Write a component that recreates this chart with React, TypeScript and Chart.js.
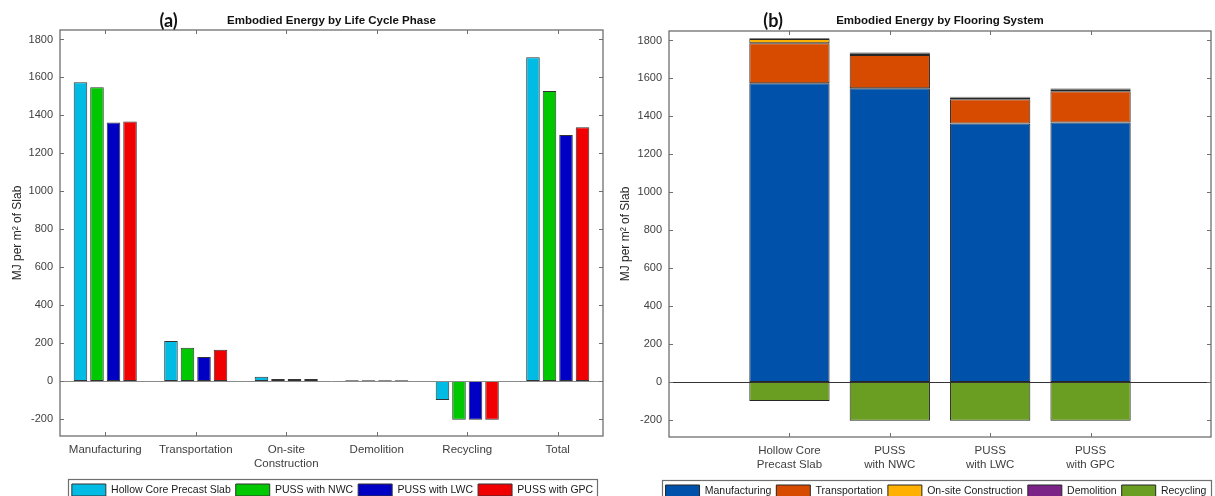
import React, { useEffect, useRef } from 'react';
import { Chart, registerables } from 'chart.js';

Chart.register(...registerables);
Chart.defaults.font.family = '"Liberation Sans", Arial, Helvetica, sans-serif';

// ---------- data: chart (a) ----------
const phaseLabels = ['Manufacturing', 'Transportation', ['On-site', 'Construction'], 'Demolition', 'Recycling', 'Total'];
const systemNames = ['Hollow Core Precast Slab', 'PUSS with NWC', 'PUSS with LWC', 'PUSS with GPC'];
const hollowCoreByPhase = [1575, 211, 22, 4, -100, 1707];
const pussNwcByPhase = [1548, 175, 10, 4, -205, 1528];
const pussLwcByPhase = [1363, 127, 10, 4, -205, 1296];
const pussGpcByPhase = [1368, 165, 10, 4, -205, 1338];

// ---------- data: chart (b) ----------
const systemTickLabels = [['Hollow Core', 'Precast Slab'], ['PUSS', 'with NWC'], ['PUSS', 'with LWC'], ['PUSS', 'with GPC']];
const systemPositions = [1, 2, 3, 4];
const phaseNames = ['Manufacturing', 'Transportation', 'On-site Construction', 'Demolition', 'Recycling'];
const manufacturingBySystem = [1575, 1548, 1363, 1368];
const transportationBySystem = [211, 175, 127, 165];
const onSiteBySystem = [22, 10, 10, 10];
const demolitionBySystem = [4, 4, 4, 4];
const recyclingBySystem = [-100, -205, -205, -205];

// ---------- shared axis ----------
const yTickValues = [-200, 0, 200, 400, 600, 800, 1000, 1200, 1400, 1600, 1800];
const yMin = -290;
const yMax = 1850;
const yTitle = 'MJ per m\u00B2 of Slab';

const colorsA = ['#00BCE4', '#00C800', '#0000C4', '#F00000'];
const colorsB = ['#0051A9', '#D64B00', '#FFB000', '#7B2386', '#6A9E22'];

const TICK_COLOR = '#404040';

const framePlugin = {
  id: 'frame',
  afterLayout(chart: any, _args: any, opts: any) {
    const lg = chart.legend;
    if (!lg) return;
    const ca = chart.chartArea;
    const cx = (ca.left + ca.right) / 2 + (opts.legendShift || 0);
    const d = cx - (lg.left + lg.right) / 2;
    lg.left += d;
    lg.right += d;
  },
  afterDraw(chart: any, _args: any, opts: any) {
    const { ctx, chartArea } = chart;
    const { left, right, top, bottom } = chartArea;
    const x = chart.scales.x;
    const y = chart.scales.y;
    const line = (x1: number, y1: number, x2: number, y2: number) => {
      ctx.beginPath();
      ctx.moveTo(x1, y1);
      ctx.lineTo(x2, y2);
      ctx.stroke();
    };
    ctx.save();
    // zero baseline
    const y0 = Math.round(y.getPixelForValue(0)) + 0.5;
    ctx.strokeStyle = opts.zeroColor;
    ctx.lineWidth = 1;
    line(left, y0, right, y0);
    // box
    ctx.strokeStyle = '#6f6f6f';
    ctx.lineWidth = 1.3;
    ctx.strokeRect(left, top, right - left, bottom - top);
    // inward ticks
    ctx.lineWidth = 1;
    y.ticks.forEach((t: any) => {
      const py = Math.round(y.getPixelForValue(t.value)) + 0.5;
      line(left, py, left + 4, py);
      line(right, py, right - 4, py);
    });
    x.ticks.forEach((_t: any, i: number) => {
      const px = Math.round(x.getPixelForTick(i)) + 0.5;
      line(px, bottom, px, bottom - 4);
      line(px, top, px, top + 4);
    });
    // titles
    ctx.fillStyle = '#111';
    ctx.textAlign = 'center';
    ctx.textBaseline = 'middle';
    ctx.font = 'bold 11.5px "Liberation Sans", Arial, sans-serif';
    ctx.fillText(opts.title, (left + right) / 2, opts.titleY);
    ctx.font = 'bold 18px Lato, "Open Sans", sans-serif';
    ctx.fillText(opts.tag, left + opts.tagFrac * (right - left), opts.titleY);
    // legend border
    const lg = chart.legend;
    if (lg && lg.legendHitBoxes && lg.legendHitBoxes.length) {
      const hb = lg.legendHitBoxes;
      const l = hb[0].left - 4;
      const last = hb[hb.length - 1];
      const r = last.left + last.width + 4;
      ctx.strokeStyle = '#6f6f6f';
      ctx.lineWidth = 1.2;
      ctx.strokeRect(Math.round(l) + 0.5, Math.round(lg.top) + 0.5, Math.round(r - l), 60);
    }
    ctx.restore();
  },
};

function commonY(titlePad: number, axisWidth: number) {
  return {
    min: yMin,
    max: yMax,
    grid: { display: false, drawTicks: false },
    border: { display: false },
    ticks: { color: TICK_COLOR, padding: 7, font: { size: 11 }, callback: (v: number) => String(v) },
    afterBuildTicks: (s: any) => {
      s.ticks = yTickValues.map((v) => ({ value: v }));
    },
    afterFit: (s: any) => {
      s.width = axisWidth;
    },
    title: {
      display: true,
      text: yTitle,
      color: '#262626',
      font: { size: 12 },
      padding: { top: titlePad, bottom: 0 },
    },
  };
}

const legendOpts = {
  position: 'bottom' as const,
  labels: {
    boxWidth: 34,
    boxHeight: 12,
    padding: 5,
    color: '#1a1a1a',
    font: { size: 10.5 },
  },
};

function buildConfigA(): any {
  const series = [hollowCoreByPhase, pussNwcByPhase, pussLwcByPhase, pussGpcByPhase];
  return {
    type: 'bar',
    data: {
      labels: phaseLabels,
      datasets: series.map((d, i) => ({
        label: systemNames[i],
        data: d,
        backgroundColor: colorsA[i],
        borderColor: '#333333',
        borderWidth: 1,
        borderSkipped: false,
        categoryPercentage: 0.73,
        barPercentage: 0.82,
      })),
    },
    options: {
      animation: false,
      responsive: false,
      events: [],
      layout: { padding: { top: 30, right: 4, left: 0, bottom: 0 } },
      scales: {
        x: {
          grid: { display: false, drawTicks: false },
          border: { display: false },
          ticks: { color: TICK_COLOR, padding: 7, maxRotation: 0, autoSkip: false, font: { size: 11.5, lineHeight: 1.18 } },
          afterFit: (s: any) => {
            s.height = 43;
          },
        },
        y: commonY(10, 60),
      },
      plugins: {
        legend: legendOpts,
        tooltip: { enabled: false },
        frame: {
          title: 'Embodied Energy by Life Cycle Phase',
          tag: '(a)',
          tagFrac: 0.2,
          titleY: 21,
          zeroColor: '#8a8a8a',
          legendShift: 1,
        },
      },
    },
    plugins: [framePlugin],
  };
}

function buildConfigB(): any {
  const series = [manufacturingBySystem, transportationBySystem, onSiteBySystem, demolitionBySystem, recyclingBySystem];
  return {
    type: 'bar',
    data: {
      datasets: series.map((d, i) => ({
        label: phaseNames[i],
        data: d.map((v, j) => ({ x: systemPositions[j], y: v })),
        backgroundColor: colorsB[i],
        borderColor: '#262626',
        borderWidth: 1,
        borderSkipped: false,
        categoryPercentage: 1,
        barPercentage: 0.8,
      })),
    },
    options: {
      animation: false,
      responsive: false,
      events: [],
      layout: { padding: { top: 31, right: 4, left: 0, bottom: 0 } },
      scales: {
        x: {
          type: 'linear',
          stacked: true,
          offset: false,
          min: -0.2,
          max: 5.2,
          grid: { display: false, drawTicks: false },
          border: { display: false },
          afterBuildTicks: (s: any) => {
            s.ticks = systemPositions.map((v) => ({ value: v }));
          },
          ticks: {
            color: TICK_COLOR,
            padding: 7,
            maxRotation: 0,
            autoSkip: false,
            font: { size: 11.5, lineHeight: 1.18 },
            callback: (value: number) => systemTickLabels[systemPositions.indexOf(value)] ?? '',
          },
          afterFit: (s: any) => {
            s.height = 43;
          },
        },
        y: { ...commonY(11, 62), stacked: true },
      },
      plugins: {
        legend: legendOpts,
        tooltip: { enabled: false },
        frame: {
          title: 'Embodied Energy by Flooring System',
          tag: '(b)',
          tagFrac: 0.192,
          titleY: 21,
          zeroColor: '#333333',
          legendShift: -4,
        },
      },
    },
    plugins: [framePlugin],
  };
}

function ChartCanvas({ build, width, height }: { build: () => any; width: number; height: number }) {
  const ref = useRef<HTMLCanvasElement>(null);
  useEffect(() => {
    const chart = new Chart(ref.current as HTMLCanvasElement, build());
    return () => chart.destroy();
  }, [build]);
  return <canvas ref={ref} width={width} height={height} style={{ display: 'block', width, height }} />;
}

export default function App() {
  return (
    <div
      style={{
        position: 'fixed',
        left: 0,
        top: 0,
        width: 1215,
        height: 496,
        overflow: 'hidden',
        background: '#ffffff',
        display: 'flex',
        alignItems: 'flex-start',
      }}
    >
      <ChartCanvas build={buildConfigA} width={607} height={506} />
      <ChartCanvas build={buildConfigB} width={608} height={507} />
    </div>
  );
}
